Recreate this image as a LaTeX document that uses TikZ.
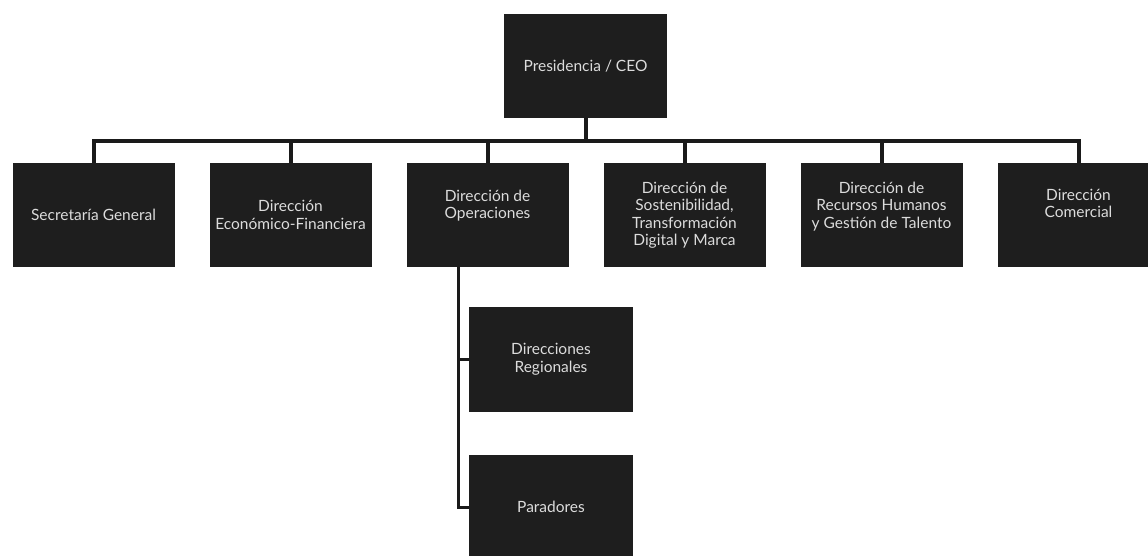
\documentclass[tikz,border=0pt]{standalone}
\usepackage{fontspec}
\setmainfont{Lato}
\definecolor{boxfill}{HTML}{1E1E1E}
\definecolor{boxtext}{HTML}{DCDCDC}
\definecolor{linec}{HTML}{1A1A1A}
\begin{document}
\begin{tikzpicture}[x=1pt,y=-1pt,
  orgbox/.style={rectangle, fill=boxfill, text=boxtext, minimum width=162pt, minimum height=104pt,
     inner sep=0pt, align=center, font=\fontsize{15.5}{17.5}\selectfont},
  conn/.style={draw=linec, line width=4pt},
  subconn/.style={draw=linec, line width=3pt}]
\useasboundingbox (0,0) rectangle (1148,556);
\begin{scope}
\clip (0,0) rectangle (1148,556);
\node[orgbox, minimum width=163pt] (ceo) at (585.5,66) {Presidencia / CEO};
\node[orgbox] (b1) at (93.5,215) {Secretaría General};
\node[orgbox] (b2) at (290.5,215) {Dirección\\Económico-Financiera};
\node[orgbox] (b3) at (487.5,215) {Dirección de\\Operaciones\\[4pt]};
\node[orgbox] (b4) at (684.5,215) {Dirección de\\Sostenibilidad,\\Transformación\\Digital y Marca};
\node[orgbox] (b5) at (881.5,215) {Dirección de\\Recursos Humanos\\y Gestión de Talento\\[2pt]};
\node[orgbox] (b6) at (1078.5,215) {Dirección\\Comercial\\[6pt]};
\node[orgbox, minimum width=164pt, minimum height=105pt] (reg) at (551,359.5) {Direcciones\\Regionales};
\node[orgbox, minimum width=164pt] (par) at (551,507) {Paradores};
\foreach \b in {b1,b2,b3,b4,b5,b6}{
  \draw[conn] (ceo.south) -- ++(0,23) -| (\b.north);
}
\draw[subconn] ([xshift=-29.5pt]b3.south) |- (reg.west);
\draw[subconn] ([xshift=-29.5pt]b3.south) |- (par.west);
\end{scope}
\end{tikzpicture}
\end{document}
